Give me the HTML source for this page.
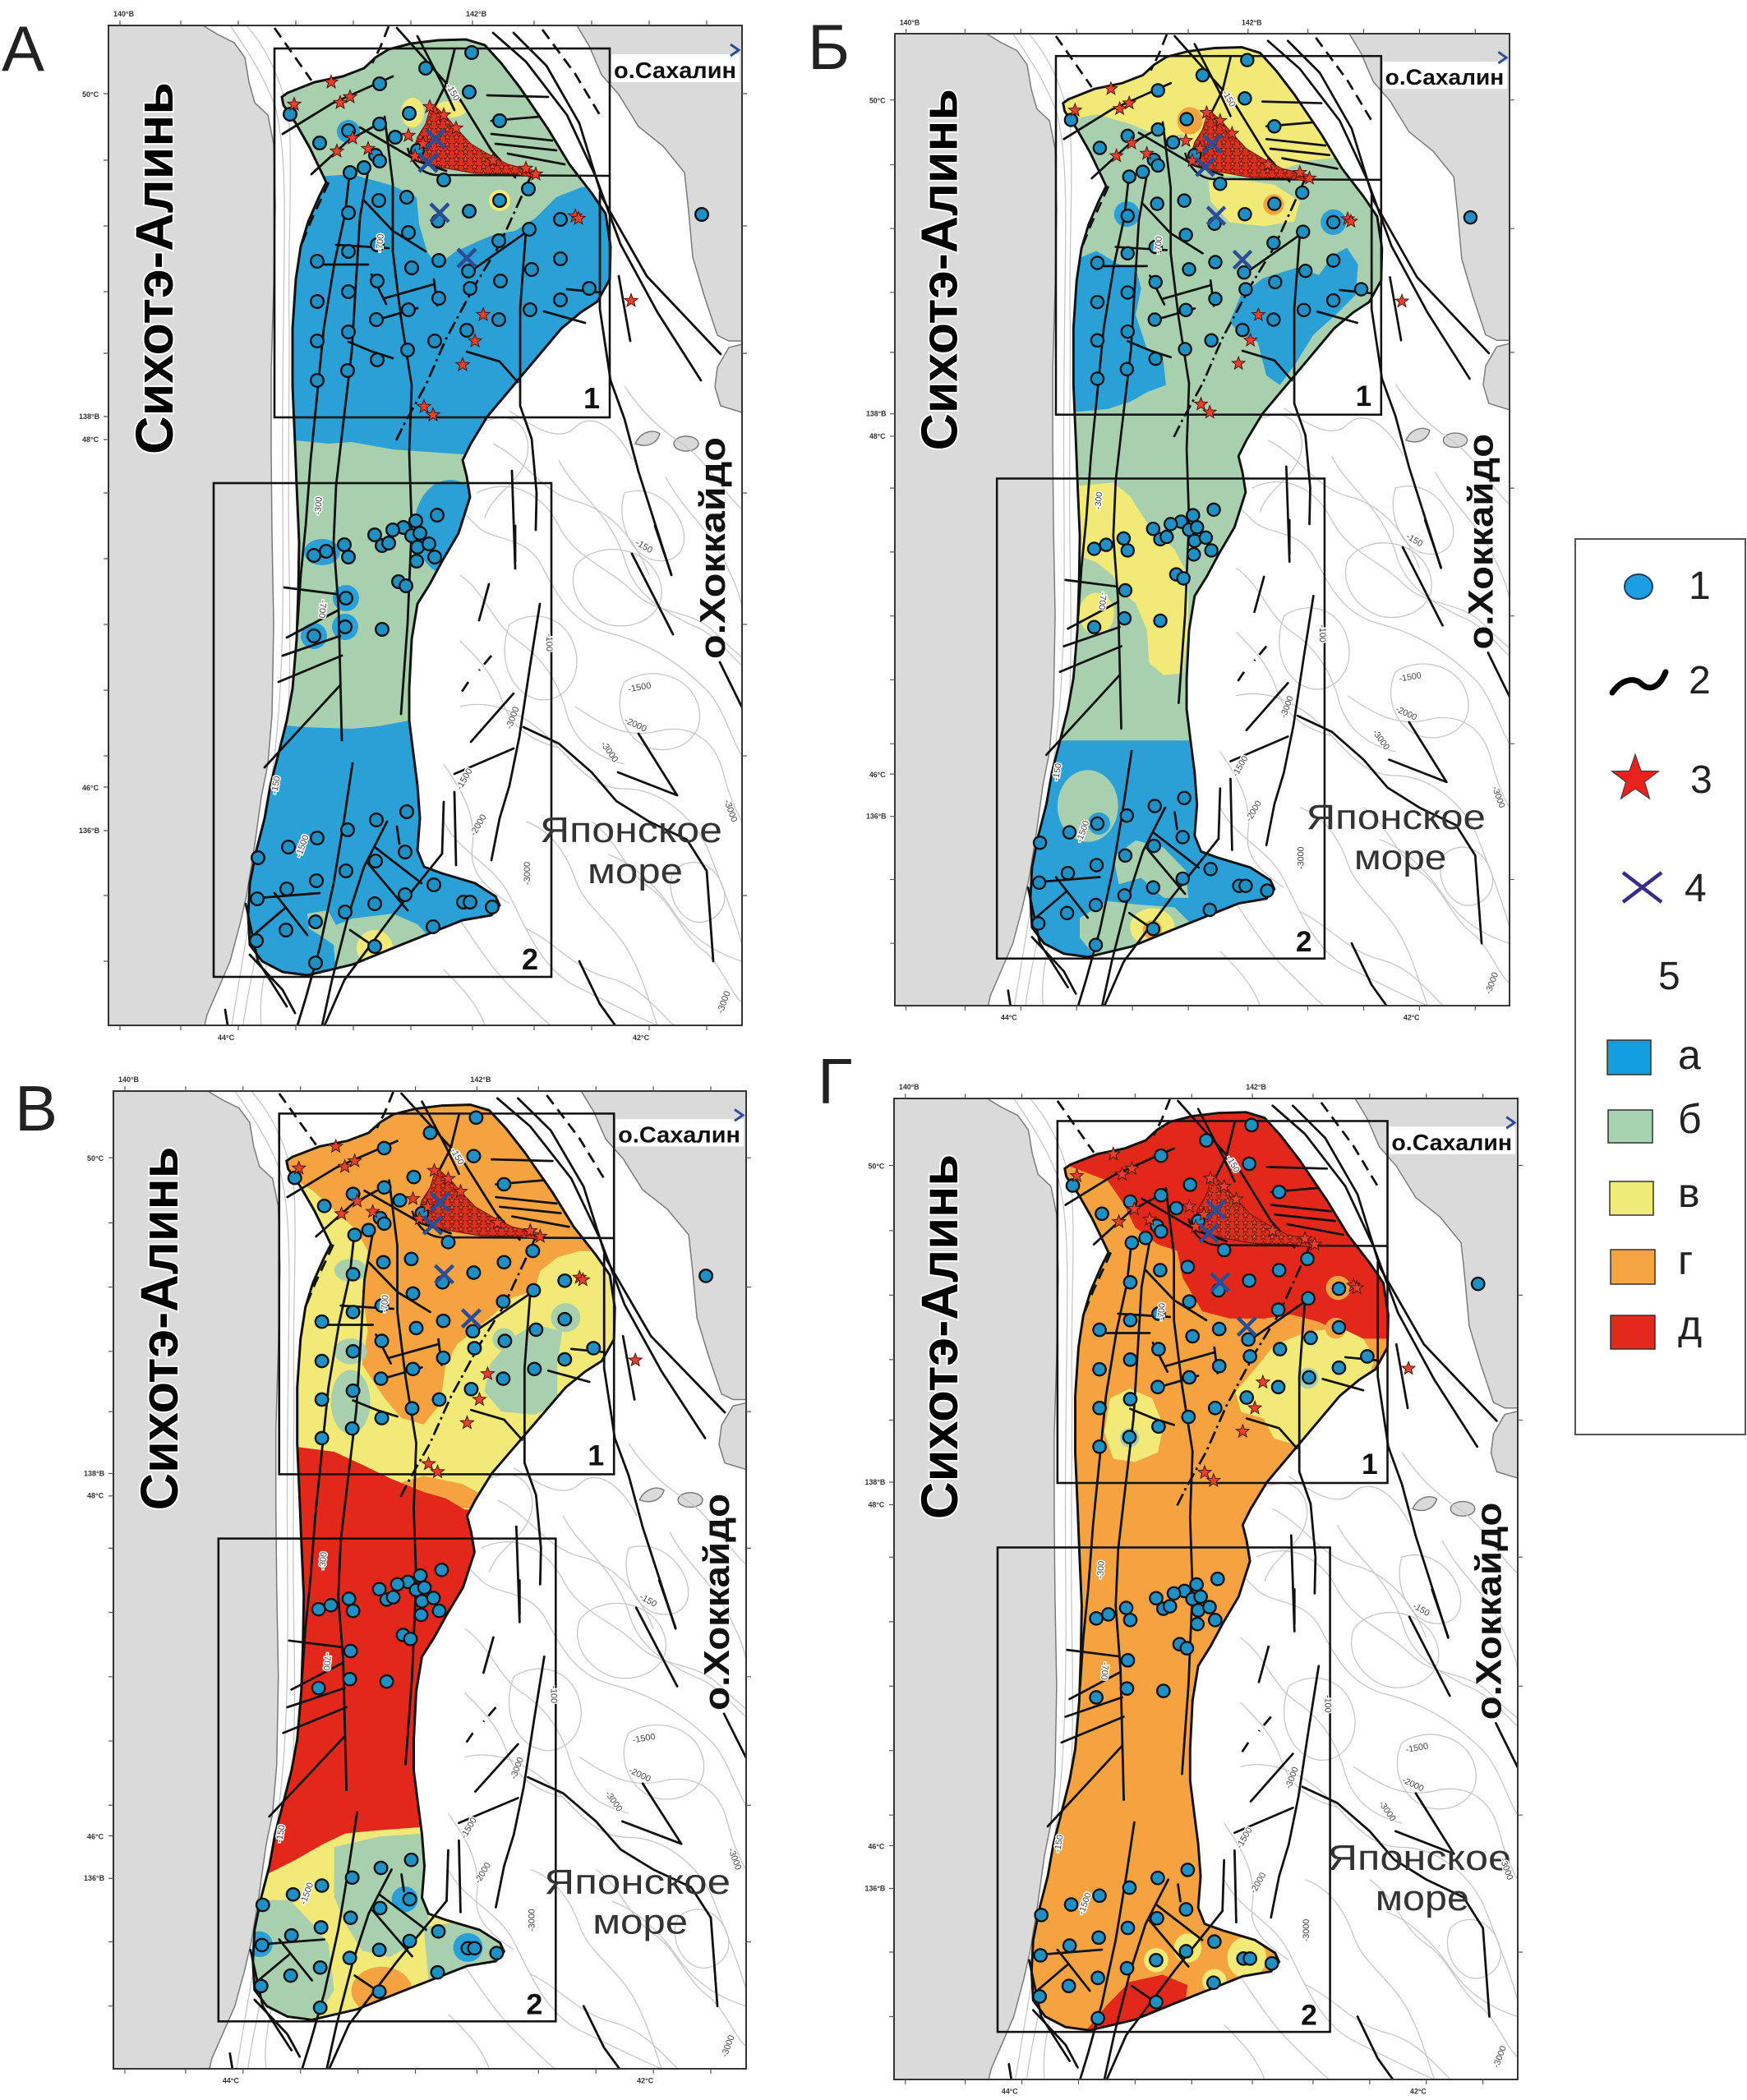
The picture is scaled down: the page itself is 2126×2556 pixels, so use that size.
<!DOCTYPE html>
<html><head><meta charset="utf-8">
<style>html,body{margin:0;padding:0;background:#fff}svg{display:block}</style>
</head><body>
<svg width="2126" height="2556" viewBox="0 0 2126 2556" xmlns="http://www.w3.org/2000/svg">
<style>
.f{fill:none;stroke:#111;stroke-width:2.8;stroke-linecap:round;stroke-linejoin:round}
.fd{fill:none;stroke:#111;stroke-width:2.8;stroke-dasharray:14 8}
.fdd{fill:none;stroke:#111;stroke-width:2.8;stroke-dasharray:16 5 3 5}
.c{fill:none;stroke:#c6c6c6;stroke-width:1.3}
.t{font-family:"Liberation Sans","Noto Sans CJK SC",sans-serif}
.tk{font-family:"Liberation Sans",sans-serif;font-size:9px;font-weight:bold;fill:#333}
.cl{font-family:"Liberation Sans",sans-serif;font-size:11px;fill:#444;stroke:#fff;stroke-width:3;paint-order:stroke;text-anchor:middle}
</style>
<defs>
<polygon id="ol" points="350,113 383,100 417,93 443,83 457,70 473,60 500,53 533,49 567,48 590,55 610,77 633,107 667,157 693,200 720,235 737,260 743,300 742,340 727,367 707,380 683,400 630,463 593,507 573,540 563,560 568,580 572,605 558,649 538,683 523,711 508,735 501,778 498,838 498,877 503,917 508,956 511,996 508,1035 516,1055 538,1063 578,1075 603,1091 608,1102 598,1114 563,1120 518,1138 478,1154 429,1174 374,1187 344,1183 319,1170 304,1150 302,1114 304,1075 312,1035 322,996 329,956 339,917 349,877 356,838 361,778 363,719 364,660 361,591 359,540 356,470 356,400 360,340 366,300 375,270 388,240 397,222 390,207 377,180 360,150 345,128 343,118"/>
<clipPath id="cl"><use href="#ol"/></clipPath>
<clipPath id="fr"><rect x="132" y="31" width="771" height="1217"/></clipPath>
<polygon id="st" points="0,-8.5 2.1,-2.9 8.1,-2.6 3.4,1.1 5,6.9 0,3.6 -5,6.9 -3.4,1.1 -8.1,-2.6 -2.1,-2.9" fill="#e8402a" stroke="#4a1208" stroke-width="1"/>
<circle id="d" r="7.8" fill="#1e90c4" stroke="#111" stroke-width="2.4"/>
<path id="x" d="M-11,-11 L11,11 M11,-11 L-11,11" stroke="#2b4d96" stroke-width="4.5" fill="none"/>
<pattern id="sp" patternUnits="userSpaceOnUse" width="11" height="9">
<rect width="11" height="9" fill="#d8321e"/>
<path d="M5.5,0.5 L6.6,3.4 9.6,3.5 7.2,5.3 8,8.4 5.5,6.6 3,8.4 3.8,5.3 1.4,3.5 4.4,3.4Z" fill="#ec4a2c" stroke="#5a0e05" stroke-width="0.7"/>
</pattern>

<g id="bb">
<polygon points="132,31 247,31 265,42 285,52 298,70 303,100 310,125 326,140 333,175 335,250 333,350 330,450 330,550 331,650 333,760 331,870 326,930 318,970 309,1035 300,1090 292,1125 280,1170 265,1205 252,1235 249,1248 132,1248" fill="#dadada" stroke="#7a7a7a" stroke-width="1.5"/>
<polygon points="702,31 717,56 732,91 753,115 777,154 807,178 833,210 838,257 843,313 857,360 873,408 887,415 903,415 903,31" fill="#dadada" stroke="#7a7a7a" stroke-width="1.5"/>
<polygon points="870,471 873,447 887,423 903,419 903,502 877,494" fill="#dadada" stroke="#7a7a7a" stroke-width="1.5"/>
<path d="M773,540 C780,525 795,522 803,528 C800,538 790,546 773,540Z" fill="#dadada" stroke="#7a7a7a" stroke-width="1.5"/>
<ellipse cx="835" cy="540" rx="15" ry="9" fill="#dadada" stroke="#7a7a7a" stroke-width="1.5"/>
<rect x="744" y="66" width="156" height="34" fill="#fff"/>
<g class="c">
<path d="M280,31 C300,60 320,90 335,130 C345,170 347,220 346,300 C345,400 343,500 344,600 C345,700 345,800 338,880 C332,950 320,1020 310,1080 C300,1140 290,1200 282,1248"/>
<path d="M300,31 C325,60 345,100 352,150 C356,220 350,300 352,400 C352,500 350,600 352,700 C354,800 352,880 346,930 C340,990 330,1050 322,1100 C314,1160 300,1210 296,1248"/>
<path d="M520,560 C540,600 560,620 580,640 C600,660 640,650 660,690 C680,730 700,760 740,770 C780,780 820,800 860,840 C880,860 890,900 903,920"/>
<path d="M560,860 C600,850 640,870 670,900 C700,930 720,960 760,960 C800,960 840,990 860,1030 C880,1080 895,1120 903,1150"/>
<path d="M540,1000 C560,1040 600,1050 620,1090 C640,1130 660,1180 700,1200 C740,1220 780,1240 800,1248"/>
<path d="M680,560 C700,600 740,620 760,680 C770,720 800,740 840,760 C870,770 890,800 903,810"/>
<path d="M700,690 C720,660 780,660 800,700 C820,740 780,770 740,760 C710,750 690,720 700,690Z"/>
<path d="M760,830 C790,810 840,820 850,860 C860,900 820,920 790,910 C760,900 745,860 760,830Z"/>
<path d="M560,1120 C580,1150 600,1180 620,1200 C650,1230 660,1240 670,1248"/>
<path d="M600,540 C640,560 660,600 700,610 C740,620 770,650 790,700"/>
<path d="M760,470 C780,500 800,520 830,540 C860,560 880,600 903,620"/>
<path d="M330,1150 C320,1190 315,1220 318,1248"/>
<path d="M560,700 C590,720 600,760 630,780 C660,800 680,830 690,870 C700,900 720,920 760,930"/>
<path d="M720,1000 C750,1020 760,1060 790,1080 C820,1100 830,1140 860,1160 C880,1180 890,1210 903,1220"/>
<path d="M540,930 C560,960 580,990 575,1030 C570,1060 590,1080 620,1100"/>
<path d="M620,500 C650,520 680,540 700,520 C720,500 750,520 770,560"/>
<path d="M810,580 C830,620 860,640 880,680 C890,700 900,720 903,740"/>
<path d="M640,1130 C680,1150 700,1180 740,1190 C780,1200 800,1230 820,1248"/>
<path d="M520,470 C540,500 570,520 600,510 C630,500 650,530 640,560 C630,590 600,600 590,630"/>
<path d="M580,600 C620,580 660,600 680,640 C700,680 740,690 770,720 C800,750 840,740 870,770 C890,790 903,800 903,800"/>
<path d="M620,760 C650,740 690,750 700,790 C710,830 680,860 650,850 C620,840 605,800 620,760Z"/>
<path d="M700,860 C730,880 760,900 800,890 C840,880 870,900 880,940 C890,980 903,1000 903,1000"/>
<path d="M560,780 C580,800 600,820 610,850 C620,880 640,900 680,910"/>
<path d="M740,1040 C770,1050 800,1080 820,1110 C840,1140 870,1160 903,1170"/>
<path d="M640,1000 C670,1010 690,1040 700,1070 C710,1100 740,1120 760,1150 C780,1180 790,1220 800,1248"/>
<path d="M820,1060 C840,1040 870,1050 880,1080 C890,1110 860,1130 840,1120 C820,1110 810,1080 820,1060Z"/>
<path d="M540,1180 C560,1200 580,1220 590,1248"/>
<path d="M760,600 C790,590 820,610 830,640 C840,670 820,690 790,680 C765,670 750,630 760,600Z"/>
</g>
</g>

<g id="bt">
<use href="#ol" fill="none" stroke="#111" stroke-width="3"/>
<g clip-path="url(#fr)">
<path class="fd" d="M334,34 L379,98"/>
<path class="fd" d="M473,32 L463,57 L453,77"/>
<path class="fd" d="M660,36 L700,90 L730,140"/>
<path class="fd" d="M400,222 L378,270 L366,300"/>
<path class="f" d="M483,34 L558,118 L598,183 L627,216"/>
<path class="f" d="M508,44 L538,102 L553,134"/>
<path class="f" d="M553,61 L543,102 L523,142 L508,175"/>
<path class="f" d="M344,163 L404,126 L478,93"/>
<path class="f" d="M379,212 L424,171 L453,155"/>
<path class="f" d="M438,155 L508,196 L543,208"/>
<path class="f" d="M593,116 L667,118 M598,147 L657,142 M598,163 L672,171 M603,175 L677,183 M618,187 L687,200"/>
<path class="f" d="M600,40 L640,75 L690,140 L725,215 L755,297 L800,380 L853,463"/>
<path class="f" d="M625,40 L665,80 L705,150 L733,241 L787,336 L877,431"/>
<path class="f" d="M730,234 L730,376 L743,463 L760,510 L777,574 L817,700"/>
<path class="f" d="M753,336 L767,415"/>
<path class="fdd" d="M647,212 L608,298 L578,347 L543,412 L518,469 L493,514 L480,540"/>
<path class="f" d="M426,205 L420,260 L407,320 L394,400 L386,480 L378,560 L372,640 L366,700 L362,760"/>
<path class="f" d="M448,208 L438,265 L433,347 L428,428 L416,530 L409,591 L406,660 L412,740 L416,901"/>
<path class="f" d="M468,142 L478,224 L478,306 L488,387 L501,469 L498,551 L501,640 L496,759 L488,869"/>
<path class="f" d="M640,281 L633,376 L633,494 L647,534 L653,600 L652,645"/>
<path class="f" d="M623,573 L627,692"/>
<path class="f" d="M657,735 L645,811 L632,897 L620,956 L608,996 L598,1047"/>
<path class="f" d="M627,640 L627,683 M595,711 L583,755"/>
<path class="fd" d="M598,798 L583,816 M570,830 L558,848"/>
<path class="f" d="M625,844 L573,903 M625,911 L553,942"/>
<path class="f" d="M637,885 L680,905 L720,940 L750,975 L790,1000 L836,1022 L860,1060 L868,1170"/>
<path class="f" d="M752,940 L824,968 M777,893 L824,968"/>
<path class="f" d="M769,674 L819,772 M797,640 L817,699 M876,806 L903,861"/>
<path class="f" d="M705,1170 L730,1222 L753,1254"/>
<path class="f" d="M553,964 L555,1053 M540,976 L538,1039"/>
<path class="f" d="M414,834 L322,934 M416,798 L339,830 M414,774 L344,798 M411,743 L349,776 M409,723 L346,715"/>
<path class="f" d="M429,929 L419,996 L406,1075 L389,1154 L372,1215 L362,1248"/>
<path class="f" d="M471,1000 L443,1055 L424,1114 L404,1193 L392,1248"/>
<path class="f" d="M538,1039 L478,1114 L419,1193 L395,1248"/>
<path class="f" d="M456,1031 L513,1075 M448,1051 L496,1108 M483,1006 L486,1027"/>
<path class="f" d="M314,1093 L389,1087 M334,1087 L374,1138 M346,1106 L304,1142 M426,1132 L458,1154"/>
<path class="f" d="M299,1100 L314,1170 L349,1225 M304,1162 L344,1205 L359,1233 M274,1229 L277,1248"/>
<path class="f" d="M409,298 L473,302 M381,322 L448,322 M443,244 L478,281 L518,306"/>
<path class="f" d="M468,363 L528,346 M453,391 L508,375 M424,416 L453,428 L478,436"/>
<path class="f" d="M568,428 L608,440 L630,465 M573,330 L637,285 M662,379 L712,393 M690,352 L730,356"/>
<path class="f" d="M528,340 L532,372 M452,334 L470,370"/>
</g>
<rect x="334" y="59" width="408" height="449" fill="none" stroke="#111" stroke-width="2.6"/>
<rect x="260" y="588" width="411" height="601" fill="none" stroke="#111" stroke-width="2.6"/>
<path d="M496,180 Q505,210 530,213 L742,214" fill="none" stroke="#111" stroke-width="2.6"/>
<polygon points="528,128 543,142 558,159 573,175 593,187 618,200 652,208 650,216 627,212 578,211 538,204 513,196 503,183 508,167 518,151 523,134" fill="url(#sp)" stroke="#6b1208" stroke-width="1"/>
<g>
<use href="#d" x="574" y="64"/><use href="#d" x="518" y="83"/><use href="#d" x="462" y="102"/><use href="#d" x="571" y="112"/><use href="#d" x="498" y="138"/><use href="#d" x="353" y="139"/><use href="#d" x="462" y="151"/><use href="#d" x="608" y="147"/><use href="#d" x="424" y="159"/><use href="#d" x="481" y="167"/><use href="#d" x="389" y="174"/><use href="#d" x="457" y="189"/><use href="#d" x="462" y="196"/><use href="#d" x="443" y="204"/><use href="#d" x="426" y="210"/><use href="#d" x="508" y="183"/><use href="#d" x="540" y="219"/><use href="#d" x="643" y="230"/><use href="#d" x="608" y="244"/><use href="#d" x="461" y="244"/><use href="#d" x="495" y="240"/><use href="#d" x="571" y="257"/><use href="#d" x="424" y="259"/><use href="#d" x="533" y="269"/><use href="#d" x="682" y="267"/><use href="#d" x="644" y="279"/><use href="#d" x="497" y="283"/><use href="#d" x="607" y="293"/><use href="#d" x="459" y="298"/><use href="#d" x="424" y="306"/><use href="#d" x="386" y="318"/><use href="#d" x="534" y="317"/><use href="#d" x="501" y="326"/><use href="#d" x="647" y="328"/><use href="#d" x="682" y="315"/><use href="#d" x="570" y="330"/><use href="#d" x="459" y="342"/><use href="#d" x="609" y="342"/><use href="#d" x="424" y="355"/><use href="#d" x="534" y="363"/><use href="#d" x="386" y="367"/><use href="#d" x="682" y="365"/><use href="#d" x="645" y="377"/><use href="#d" x="717" y="351"/><use href="#d" x="572" y="351"/><use href="#d" x="497" y="377"/><use href="#d" x="607" y="389"/><use href="#d" x="458" y="389"/><use href="#d" x="568" y="402"/><use href="#d" x="424" y="404"/><use href="#d" x="386" y="415"/><use href="#d" x="529" y="415"/><use href="#d" x="496" y="426"/><use href="#d" x="459" y="438"/><use href="#d" x="423" y="451"/><use href="#d" x="386" y="463"/>
<use href="#d" x="854" y="261"/>
<use href="#d" x="532" y="627"/><use href="#d" x="506" y="634"/><use href="#d" x="491" y="642"/><use href="#d" x="456" y="651"/><use href="#d" x="478" y="645"/><use href="#d" x="501" y="652"/><use href="#d" x="511" y="649"/><use href="#d" x="508" y="666"/><use href="#d" x="522" y="662"/><use href="#d" x="529" y="678"/><use href="#d" x="507" y="683"/><use href="#d" x="465" y="664"/><use href="#d" x="473" y="661"/><use href="#d" x="419" y="663"/><use href="#d" x="424" y="678"/><use href="#d" x="397" y="671"/><use href="#d" x="382" y="676"/><use href="#d" x="485" y="708"/><use href="#d" x="494" y="713"/><use href="#d" x="421" y="728"/><use href="#d" x="420" y="763"/><use href="#d" x="382" y="774"/><use href="#d" x="465" y="766"/>
<use href="#d" x="495" y="988"/><use href="#d" x="458" y="998"/><use href="#d" x="423" y="1010"/><use href="#d" x="386" y="1020"/><use href="#d" x="351" y="1031"/><use href="#d" x="493" y="1037"/><use href="#d" x="314" y="1044"/><use href="#d" x="457" y="1048"/><use href="#d" x="385" y="1072"/><use href="#d" x="421" y="1060"/><use href="#d" x="349" y="1082"/><use href="#d" x="313" y="1094"/><use href="#d" x="493" y="1089"/><use href="#d" x="528" y="1077"/><use href="#d" x="456" y="1100"/><use href="#d" x="564" y="1098"/><use href="#d" x="572" y="1098"/><use href="#d" x="599" y="1104"/><use href="#d" x="420" y="1110"/><use href="#d" x="384" y="1122"/><use href="#d" x="348" y="1132"/><use href="#d" x="312" y="1145"/><use href="#d" x="527" y="1128"/><use href="#d" x="456" y="1152"/><use href="#d" x="384" y="1172"/>
</g>
<g>
<use href="#st" x="403" y="100"/><use href="#st" x="358" y="127"/><use href="#st" x="414" y="125"/><use href="#st" x="426" y="118"/><use href="#st" x="429" y="168"/><use href="#st" x="410" y="184"/><use href="#st" x="448" y="181"/><use href="#st" x="497" y="165"/><use href="#st" x="700" y="263"/><use href="#st" x="704" y="266"/><use href="#st" x="768" y="366"/><use href="#st" x="588" y="383"/><use href="#st" x="578" y="415"/><use href="#st" x="563" y="444"/><use href="#st" x="516" y="495"/><use href="#st" x="527" y="505"/><use href="#st" x="523" y="130"/><use href="#st" x="540" y="140"/><use href="#st" x="555" y="156"/><use href="#st" x="600" y="195"/><use href="#st" x="640" y="205"/><use href="#st" x="652" y="212"/><use href="#st" x="505" y="190"/><use href="#st" x="515" y="175"/>
</g>
<use href="#x" x="530" y="169"/><use href="#x" x="521" y="198"/><use href="#x" x="535" y="259"/><use href="#x" x="568" y="314"/>
<path d="M889,54 L899,61 L889,68" fill="none" stroke="#2b4d96" stroke-width="3"/>
<rect x="132" y="31" width="771" height="1217" fill="none" stroke="#333" stroke-width="2"/>
<path d="M146,31v-6M220,31v-6M290,31v-6M360,31v-6M430,31v-6M500,31v-6M575,31v-6M650,31v-6M720,31v-6M790,31v-6M860,31v-6M146,1248v6M220,1248v6M290,1248v6M360,1248v6M430,1248v6M500,1248v6M575,1248v6M650,1248v6M720,1248v6M790,1248v6M860,1248v6M132,114h-6M132,195h-6M132,275h-6M132,355h-6M132,430h-6M132,507h-6M132,535h-6M132,600h-6M132,680h-6M132,760h-6M132,840h-6M132,920h-6M132,958h-6M132,1011h-6M132,1090h-6M132,1170h-6M903,114h6M903,275h6M903,430h6M903,600h6M903,760h6M903,920h6M903,1090h6" stroke="#555" stroke-width="1.2" fill="none"/>
</g>
</defs>

<!-- PANEL А -->
<g>
<use href="#bb"/>
<g clip-path="url(#cl)">
<rect x="290" y="30" width="470" height="1170" fill="#2ba0d7"/>
<polygon fill="#a9d0ae" points="290,20 760,20 760,224 742,224 707,228 677,240 652,265 627,281 603,285 583,293 553,307 533,323 520,307 510,273 507,240 478,226 428,212 400,214 290,216"/>
<polygon fill="#a9d0ae" points="290,538 359,536 400,540 428,538 478,547 520,550 563,553 610,553 610,877 498,877 460,884 428,887 369,885 290,877"/>
<ellipse cx="548" cy="642" rx="44" ry="58" fill="#2ba0d7"/>
<ellipse cx="392" cy="672" rx="22" ry="16" fill="#2ba0d7"/>
<circle cx="421" cy="728" r="16" fill="#2ba0d7"/><circle cx="420" cy="763" r="16" fill="#2ba0d7"/><circle cx="382" cy="774" r="16" fill="#2ba0d7"/><circle cx="424" cy="160" r="14" fill="#2ba0d7"/>
<polygon fill="#a9d0ae" points="374,1112 399,1108 409,1126 429,1118 478,1112 508,1125 522,1140 510,1160 470,1178 430,1186 409,1186 406,1150 392,1140 376,1130"/>
<circle cx="456" cy="1154" r="22" fill="#f2ea76"/>
<ellipse cx="502" cy="137" rx="14" ry="18" fill="#f2ea76"/>
<ellipse cx="548" cy="133" rx="20" ry="10" fill="#f2ea76"/>
<circle cx="608" cy="244" r="13" fill="#f2ea76"/>
</g>
<use href="#bt"/>
<g class="t">
<text class="tk" x="138" y="20">140°В</text><text class="tk" x="567" y="20">142°В</text>
<text class="tk" x="100" y="118">50°С</text><text class="tk" x="96" y="510">138°В</text><text class="tk" x="100" y="538">48°С</text>
<text class="tk" x="100" y="962">46°С</text><text class="tk" x="96" y="1014">136°В</text>
<text class="tk" x="265" y="1266">44°С</text><text class="tk" x="770" y="1266">42°С</text>
<text x="710" y="497" font-size="36" font-weight="bold" fill="#111">1</text>
<text x="635" y="1180" font-size="36" font-weight="bold" fill="#111">2</text>
<text x="747" y="95" font-size="28" font-weight="bold" fill="#111" textLength="149" lengthAdjust="spacingAndGlyphs">о.Сахалин</text>
<text transform="translate(882,802) rotate(-90)" font-size="44" font-weight="bold" fill="#111" textLength="270" lengthAdjust="spacingAndGlyphs">о.Хоккайдо</text>
<text transform="translate(210,553) rotate(-90)" font-size="64" font-weight="bold" fill="#000" stroke="#fff" stroke-width="4" paint-order="stroke" textLength="453" lengthAdjust="spacingAndGlyphs">Сихотэ-Алинь</text>
<text x="657" y="1025" font-size="44" fill="#333" textLength="222" lengthAdjust="spacingAndGlyphs">Японское</text>
<text x="715" y="1075" font-size="44" fill="#333" textLength="116" lengthAdjust="spacingAndGlyphs">море</text>
<text class="cl" transform="translate(548,114) rotate(60)">-150</text>
<text class="cl" transform="translate(466,296) rotate(-85)">-700</text>
<text class="cl" transform="translate(391,616) rotate(-85)">-300</text>
<text class="cl" transform="translate(389,741) rotate(95)">-700</text>
<text class="cl" transform="translate(339,956) rotate(-80)">-150</text>
<text class="cl" transform="translate(371,1031) rotate(-70)">-1500</text>
<text class="cl" transform="translate(568,950) rotate(-60)">-1500</text>
<text class="cl" transform="translate(585,1006) rotate(-60)">-2000</text>
<text class="cl" transform="translate(627,875) rotate(-70)">-3000</text>
<text class="cl" transform="translate(645,1063) rotate(-90)">-3000</text>
<text class="cl" transform="translate(782,668) rotate(30)">-150</text>
<text class="cl" transform="translate(779,840) rotate(-10)">-1500</text>
<text class="cl" transform="translate(772,885) rotate(25)">-2000</text>
<text class="cl" transform="translate(739,917) rotate(55)">-3000</text>
<text class="cl" transform="translate(886,988) rotate(70)">-3000</text>
<text class="cl" transform="translate(884,1221) rotate(-70)">-3000</text>
<text class="cl" transform="translate(665,782) rotate(90)">-100</text>
</g>
</g>

<!-- PANEL Б -->
<g transform="matrix(0.9702,0,0,0.9721,960.93,10.86)">
<use href="#bb"/>
<g clip-path="url(#cl)">
<rect x="290" y="30" width="470" height="1170" fill="#a9d0ae"/>
<polygon fill="#f2ea76" points="290,20 760,20 760,182 741,182 685,186 650,190 594,209 552,209 518,203 493,157 469,161 427,144 385,132 343,140 290,140"/>
<polygon fill="#f2ea76" points="525,215 566,214 608,220 640,241 633,266 594,272 552,267 528,241"/>
<ellipse cx="502" cy="140" rx="16" ry="17" fill="#f4a340"/>
<circle cx="607" cy="245" r="13" fill="#f4a340"/>
<polygon fill="#2ba0d7" points="290,316 353,316 385,303 413,320 434,324 441,350 434,383 448,425 469,442 472,471 448,480 427,492 399,501 353,505 290,505"/>
<circle cx="423" cy="257" r="16" fill="#2ba0d7"/>
<circle cx="682" cy="267" r="16" fill="#2ba0d7"/>
<polygon fill="#2ba0d7" points="552,392 566,358 594,337 636,324 664,333 682,308 699,299 713,320 710,358 685,383 657,408 636,442 615,471 598,459 587,417 566,408"/>
<polygon fill="#f2ea76" points="330,597 364,597 406,593 427,610 448,643 483,677 500,710 500,777 493,832 469,834 451,819 448,777 434,744 413,727 406,710 385,693 364,685 330,685"/>
<ellipse cx="385" cy="757" rx="22" ry="26" fill="#f2ea76"/>
<rect x="290" y="916" width="330" height="290" fill="#2ba0d7"/>
<ellipse cx="374" cy="998" rx="38" ry="45" fill="#a9d0ae"/>
<circle cx="388" cy="1020" r="14" fill="#2ba0d7"/>
<polygon fill="#a9d0ae" points="406,1062 434,1041 469,1050 497,1079 500,1113 469,1113 441,1088 413,1096"/>
<polygon fill="#a9d0ae" points="364,1138 399,1117 434,1121 483,1125 504,1146 483,1180 441,1188 385,1188 364,1163"/>
<ellipse cx="455" cy="1150" rx="28" ry="24" fill="#f2ea76"/>
<circle cx="455" cy="1153" r="12" fill="#f4a340"/>
</g>
<use href="#bt"/>
<g class="t">
<text class="tk" x="138" y="20">140°В</text><text class="tk" x="567" y="20">142°В</text>
<text class="tk" x="100" y="118">50°С</text><text class="tk" x="96" y="510">138°В</text><text class="tk" x="100" y="538">48°С</text>
<text class="tk" x="100" y="962">46°С</text><text class="tk" x="96" y="1014">136°В</text>
<text class="tk" x="265" y="1266">44°С</text><text class="tk" x="770" y="1266">42°С</text>
<text x="710" y="497" font-size="36" font-weight="bold" fill="#111">1</text>
<text x="635" y="1180" font-size="36" font-weight="bold" fill="#111">2</text>
<text x="747" y="95" font-size="28" font-weight="bold" fill="#111" textLength="149" lengthAdjust="spacingAndGlyphs">о.Сахалин</text>
<text transform="translate(882,802) rotate(-90)" font-size="44" font-weight="bold" fill="#111" textLength="270" lengthAdjust="spacingAndGlyphs">о.Хоккайдо</text>
<text transform="translate(210,553) rotate(-90)" font-size="64" font-weight="bold" fill="#000" stroke="#fff" stroke-width="4" paint-order="stroke" textLength="453" lengthAdjust="spacingAndGlyphs">Сихотэ-Алинь</text>
<text x="648" y="1027" font-size="44" fill="#333" textLength="225" lengthAdjust="spacingAndGlyphs">Японское</text>
<text x="708" y="1077" font-size="44" fill="#333" textLength="116" lengthAdjust="spacingAndGlyphs">море</text>
<text class="cl" transform="translate(548,114) rotate(60)">-150</text>
<text class="cl" transform="translate(466,296) rotate(-85)">-700</text>
<text class="cl" transform="translate(391,616) rotate(-85)">-300</text>
<text class="cl" transform="translate(389,741) rotate(95)">-700</text>
<text class="cl" transform="translate(339,956) rotate(-80)">-150</text>
<text class="cl" transform="translate(371,1031) rotate(-70)">-1500</text>
<text class="cl" transform="translate(568,950) rotate(-60)">-1500</text>
<text class="cl" transform="translate(585,1006) rotate(-60)">-2000</text>
<text class="cl" transform="translate(627,875) rotate(-70)">-3000</text>
<text class="cl" transform="translate(645,1063) rotate(-90)">-3000</text>
<text class="cl" transform="translate(782,668) rotate(30)">-150</text>
<text class="cl" transform="translate(779,840) rotate(-10)">-1500</text>
<text class="cl" transform="translate(772,885) rotate(25)">-2000</text>
<text class="cl" transform="translate(739,917) rotate(55)">-3000</text>
<text class="cl" transform="translate(886,988) rotate(70)">-3000</text>
<text class="cl" transform="translate(884,1221) rotate(-70)">-3000</text>
<text class="cl" transform="translate(665,782) rotate(90)">-100</text>
</g>
</g>

<!-- PANEL В -->
<g transform="matrix(0.9987,0,0,0.9778,6.17,1297.69)">
<use href="#bb"/>
<g clip-path="url(#cl)">
<rect x="290" y="30" width="470" height="1170" fill="#f2ea76"/>
<polygon fill="#f4a340" points="290,20 760,20 747,221 727,230 700,230 673,238 652,255 645,280 618,288 591,313 571,330 551,346 537,371 530,421 510,446 483,438 462,413 435,371 442,330 435,280 442,230 428,204 401,179 374,154 347,138 290,138"/>
<ellipse cx="421" cy="254" rx="20" ry="14" fill="#a9d0ae"/>
<ellipse cx="421" cy="355" rx="20" ry="16" fill="#a9d0ae"/>
<ellipse cx="421" cy="418" rx="24" ry="40" fill="#a9d0ae"/>
<polygon fill="#a9d0ae" points="591,371 618,338 645,321 679,330 673,371 673,421 645,434 605,430 584,405"/>
<circle cx="683" cy="313" r="18" fill="#a9d0ae"/>
<circle cx="608" cy="340" r="14" fill="#a9d0ae"/>
<polygon fill="#f4a340" points="483,518 510,510 557,520 585,535 575,552 520,545"/>
<polygon fill="#e2281a" points="290,471 334,471 401,480 435,496 469,513 510,530 537,538 560,552 610,552 610,947 510,947 456,951 415,955 388,968 354,988 313,1009 290,1018"/>
<polygon fill="#a9d0ae" points="401,972 456,959 510,955 516,1068 496,1093 469,1109 435,1101 415,1068 401,1034"/>
<polygon fill="#a9d0ae" points="290,1038 347,1038 374,1067 394,1092 401,1150 381,1184 313,1184 290,1150"/>
<polygon fill="#a9d0ae" points="510,1072 557,1064 604,1089 610,1139 557,1156 517,1148"/>
<ellipse cx="459" cy="1151" rx="37" ry="30" fill="#f4a340"/>
<circle cx="487" cy="1037" r="16" fill="#2ba0d7"/>
<circle cx="310" cy="1093" r="16" fill="#2ba0d7"/>
<circle cx="564" cy="1097" r="18" fill="#2ba0d7"/>
</g>
<use href="#bt"/>
<g class="t">
<text class="tk" x="138" y="20">140°В</text><text class="tk" x="567" y="20">142°В</text>
<text class="tk" x="100" y="118">50°С</text><text class="tk" x="96" y="510">138°В</text><text class="tk" x="100" y="538">48°С</text>
<text class="tk" x="100" y="962">46°С</text><text class="tk" x="96" y="1014">136°В</text>
<text class="tk" x="265" y="1266">44°С</text><text class="tk" x="770" y="1266">42°С</text>
<text x="710" y="497" font-size="36" font-weight="bold" fill="#111">1</text>
<text x="635" y="1180" font-size="36" font-weight="bold" fill="#111">2</text>
<text x="747" y="95" font-size="28" font-weight="bold" fill="#111" textLength="149" lengthAdjust="spacingAndGlyphs">о.Сахалин</text>
<text transform="translate(882,802) rotate(-90)" font-size="44" font-weight="bold" fill="#111" textLength="270" lengthAdjust="spacingAndGlyphs">о.Хоккайдо</text>
<text transform="translate(210,553) rotate(-90)" font-size="64" font-weight="bold" fill="#000" stroke="#fff" stroke-width="4" paint-order="stroke" textLength="453" lengthAdjust="spacingAndGlyphs">Сихотэ-Алинь</text>
<text x="657" y="1030" font-size="44" fill="#333" textLength="227" lengthAdjust="spacingAndGlyphs">Японское</text>
<text x="716" y="1080" font-size="44" fill="#333" textLength="116" lengthAdjust="spacingAndGlyphs">море</text>
<text class="cl" transform="translate(548,114) rotate(60)">-150</text>
<text class="cl" transform="translate(466,296) rotate(-85)">-700</text>
<text class="cl" transform="translate(391,616) rotate(-85)">-300</text>
<text class="cl" transform="translate(389,741) rotate(95)">-700</text>
<text class="cl" transform="translate(339,956) rotate(-80)">-150</text>
<text class="cl" transform="translate(371,1031) rotate(-70)">-1500</text>
<text class="cl" transform="translate(568,950) rotate(-60)">-1500</text>
<text class="cl" transform="translate(585,1006) rotate(-60)">-2000</text>
<text class="cl" transform="translate(627,875) rotate(-70)">-3000</text>
<text class="cl" transform="translate(645,1063) rotate(-90)">-3000</text>
<text class="cl" transform="translate(782,668) rotate(30)">-150</text>
<text class="cl" transform="translate(779,840) rotate(-10)">-1500</text>
<text class="cl" transform="translate(772,885) rotate(25)">-2000</text>
<text class="cl" transform="translate(739,917) rotate(55)">-3000</text>
<text class="cl" transform="translate(886,988) rotate(70)">-3000</text>
<text class="cl" transform="translate(884,1221) rotate(-70)">-3000</text>
<text class="cl" transform="translate(665,782) rotate(90)">-100</text>
</g>
</g>

<!-- PANEL Г -->
<g transform="matrix(0.9844,0,0,0.9811,958.06,1306.59)">
<use href="#bb"/>
<g clip-path="url(#cl)">
<rect x="290" y="30" width="470" height="1170" fill="#f4a340"/>
<polygon fill="#e2281a" points="290,21 760,21 760,329 699,329 657,308 623,299 589,304 547,304 513,295 489,254 482,220 458,212 430,191 416,162 396,133 341,112 290,112"/>
<polygon fill="#f2ea76" points="554,395 582,362 602,337 644,320 685,316 712,329 726,353 719,378 692,403 664,437 630,461 602,453 589,428 561,420"/>
<polygon fill="#f2ea76" points="399,403 423,391 451,403 465,437 458,470 430,482 403,478 392,445"/>
<circle cx="644" cy="378" r="13" fill="#a9d0ae"/>
<circle cx="423" cy="452" r="12" fill="#a9d0ae"/>
<circle cx="681" cy="266" r="15" fill="#f4a340"/>
<circle cx="678" cy="316" r="13" fill="#f4a340"/>
<ellipse cx="495" cy="1085" rx="17" ry="18" fill="#f2ea76"/>
<circle cx="456" cy="1100" r="15" fill="#f2ea76"/>
<ellipse cx="568" cy="1097" rx="24" ry="26" fill="#f2ea76"/>
<circle cx="528" cy="1126" r="15" fill="#f2ea76"/>
<polygon fill="#e2281a" points="368,1189 395,1156 423,1127 464,1118 495,1131 492,1152 464,1168 430,1185 395,1193"/>
</g>
<use href="#bt"/>
<g class="t">
<text class="tk" x="138" y="20">140°В</text><text class="tk" x="567" y="20">142°В</text>
<text class="tk" x="100" y="118">50°С</text><text class="tk" x="96" y="510">138°В</text><text class="tk" x="100" y="538">48°С</text>
<text class="tk" x="100" y="962">46°С</text><text class="tk" x="96" y="1014">136°В</text>
<text class="tk" x="265" y="1266">44°С</text><text class="tk" x="770" y="1266">42°С</text>
<text x="710" y="497" font-size="36" font-weight="bold" fill="#111">1</text>
<text x="635" y="1180" font-size="36" font-weight="bold" fill="#111">2</text>
<text x="747" y="95" font-size="28" font-weight="bold" fill="#111" textLength="149" lengthAdjust="spacingAndGlyphs">о.Сахалин</text>
<text transform="translate(882,802) rotate(-90)" font-size="44" font-weight="bold" fill="#111" textLength="270" lengthAdjust="spacingAndGlyphs">о.Хоккайдо</text>
<text transform="translate(210,553) rotate(-90)" font-size="64" font-weight="bold" fill="#000" stroke="#fff" stroke-width="4" paint-order="stroke" textLength="453" lengthAdjust="spacingAndGlyphs">Сихотэ-Алинь</text>
<text x="668" y="988" font-size="44" fill="#333" textLength="227" lengthAdjust="spacingAndGlyphs">Японское</text>
<text x="727" y="1038" font-size="44" fill="#333" textLength="116" lengthAdjust="spacingAndGlyphs">море</text>
<text class="cl" transform="translate(548,114) rotate(60)">-150</text>
<text class="cl" transform="translate(466,296) rotate(-85)">-700</text>
<text class="cl" transform="translate(391,616) rotate(-85)">-300</text>
<text class="cl" transform="translate(389,741) rotate(95)">-700</text>
<text class="cl" transform="translate(339,956) rotate(-80)">-150</text>
<text class="cl" transform="translate(371,1031) rotate(-70)">-1500</text>
<text class="cl" transform="translate(568,950) rotate(-60)">-1500</text>
<text class="cl" transform="translate(585,1006) rotate(-60)">-2000</text>
<text class="cl" transform="translate(627,875) rotate(-70)">-3000</text>
<text class="cl" transform="translate(645,1063) rotate(-90)">-3000</text>
<text class="cl" transform="translate(782,668) rotate(30)">-150</text>
<text class="cl" transform="translate(779,840) rotate(-10)">-1500</text>
<text class="cl" transform="translate(772,885) rotate(25)">-2000</text>
<text class="cl" transform="translate(739,917) rotate(55)">-3000</text>
<text class="cl" transform="translate(886,988) rotate(70)">-3000</text>
<text class="cl" transform="translate(884,1221) rotate(-70)">-3000</text>
<text class="cl" transform="translate(665,782) rotate(90)">-100</text>
</g>
</g>

<!-- Panel letters -->
<g class="t" font-size="78" fill="#222">
<text x="2" y="86">А</text>
<text x="983" y="84">Б</text>
<text x="18" y="1376">В</text>
<text x="995" y="1343">Г</text>
</g>

<!-- Legend -->
<rect x="1917" y="656" width="207" height="1090" fill="#fff" stroke="#555" stroke-width="2"/>
<ellipse cx="1994" cy="714" rx="17" ry="15" fill="#1a9ee0" stroke="#1b3f66" stroke-width="2"/>
<path d="M1962,843 C1975,825 1990,825 1997,832 C2005,840 2018,840 2027,818" fill="none" stroke="#000" stroke-width="7" stroke-linecap="round"/>
<polygon points="1990,918 1997.05,938.29 2018.53,938.73 2001.41,951.71 2007.63,972.27 1990,960 1972.37,972.27 1978.59,951.71 1961.47,938.73 1982.95,938.29" fill="#e8231e" stroke="#333" stroke-width="1"/>
<path d="M1975,1098 L2022,1062 M1975,1062 L2022,1098" stroke="#3a2a8a" stroke-width="4.5" fill="none"/>
<rect x="1956" y="1266" width="53" height="42" fill="#129de0" stroke="#333" stroke-width="1.5"/>
<rect x="1957" y="1351" width="54" height="40" fill="#a8d3b0" stroke="#333" stroke-width="1.5"/>
<rect x="1959" y="1438" width="53" height="41" fill="#f0ea78" stroke="#333" stroke-width="1.5"/>
<rect x="1960" y="1521" width="54" height="42" fill="#f5a444" stroke="#333" stroke-width="1.5"/>
<rect x="1960" y="1601" width="54" height="41" fill="#e2291c" stroke="#333" stroke-width="1.5"/>
<g class="t" fill="#222" font-size="48">
<text x="2055" y="729">1</text>
<text x="2055" y="844">2</text>
<text x="2057" y="965">3</text>
<text x="2050" y="1097">4</text>
<text x="2018" y="1204">5</text>
</g>
<g class="t" fill="#222" font-size="50">
<text x="2042" y="1301">а</text>
<text x="2042" y="1379">б</text>
<text x="2042" y="1469">в</text>
<text x="2042" y="1551">г</text>
<text x="2042" y="1630">д</text>
</g>
</svg>
</body></html>
